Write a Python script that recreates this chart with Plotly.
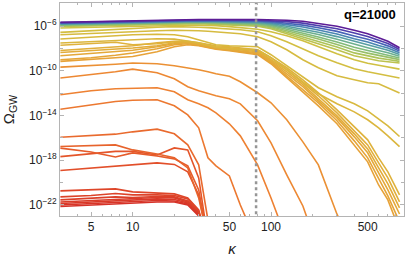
import plotly.graph_objects as go
import plotly.colors as pc

# ---------------- data (log10 of Omega_GW) ----------------
kappa_full = [3, 5, 7.5, 10, 15, 20, 25, 30, 35, 40, 50, 60, 80, 100, 130, 170,
              220, 300, 400, 500, 600, 700, 850]
kappa_band = [3, 10, 30, 80, 100, 130, 170, 220, 300, 400, 500, 600, 700, 850]
kappa_marker = 78

red_curves = [
    [-22.16, -22.02, -21.93, -21.84, -21.75, -21.75, -22.02, -23.01, -25.61],
    [-22.02, -21.89, -21.75, -21.71, -21.62, -21.66, -21.93, -22.92, -25.61],
    [-21.89, -21.75, -21.62, -21.57, -21.48, -21.53, -21.84, -22.83, -25.61],
    [-21.75, -21.62, -21.48, -21.44, -21.35, -21.39, -21.75, -22.74, -25.61],
    [-21.57, -21.44, -21.30, -21.35, -21.26, -21.30, -21.66, -22.65, -25.61],
    [-21.30, -21.17, -20.99, -21.12, -21.12, -21.17, -21.48, -22.56, -25.61],
    [-20.76, -20.67, -20.58, -20.85, -20.94, -21.03, -21.39, -22.47, -25.61],
]

early_orange_curves = [
    [-18.93, -18.70, -18.52, -18.39, -18.25, -18.39, -19.06, -21.12, -25.16],
    [-17.69, -17.45, -17.22, -17.22, -17.54, -16.91, -17.09, -19.60, -25.16],
    [-16.93, -17.27, -17.72, -17.36, -17.63, -17.89, -18.52, -20.67, -25.16],
    [-16.79, -16.68, -16.64, -17.09, -17.45, -17.80, -18.70, -21.39, -25.16],
    [-15.95, -15.83, -15.68, -15.47, -15.23, -15.65, -16.64, -18.43, -23.37, -26.0],
]

orange_curves = [
    [-13.44, -13.05, -12.75, -12.64, -12.60, -13.14, -13.95, -15.11, -17.80,
     -18.52, -19.42, -22.02, -25.61],
    [-12.15, -11.79, -11.61, -11.55, -11.52, -11.88, -12.60, -12.96, -13.32,
     -13.77, -14.75, -15.83, -18.43, -21.39, -25.16],
    [-10.65, -10.36, -10.09, -9.85, -10.18, -10.72, -11.43, -11.79, -12.06,
     -12.24, -12.51, -12.96, -14.48, -16.46, -19.33, -22.11, -26.06],
    [-9.67, -9.55, -9.42, -9.31, -9.37, -9.55, -9.73, -9.91, -10.09, -10.27,
     -10.49, -10.99, -11.97, -12.87, -14.39, -16.37, -18.43, -22.85, -26.06],
]

gold_curves = [
    [-9.16, -9.01, -8.83, -8.72, -8.29, -7.85, -7.67, -7.76, -7.94, -8.07, -8.21,
     -8.34, -8.56, -9.37, -10.63, -11.88, -13.14, -14.75, -16.64, -18.16, -20.23,
     -21.57, -24.26],
    [-9.01, -8.83, -8.61, -8.41, -8.03, -7.67, -7.58, -7.71, -7.89, -8.03, -8.16,
     -8.29, -8.47, -9.28, -10.45, -11.70, -12.87, -14.48, -16.28, -17.80, -19.60,
     -21.21, -23.54],
    [-8.65, -8.47, -8.29, -8.16, -7.85, -7.58, -7.49, -7.67, -7.85, -7.98, -8.12,
     -8.21, -8.38, -9.19, -10.27, -11.43, -12.69, -14.22, -15.92, -17.35, -19.15,
     -20.67, -22.83],
    [-8.36, -8.21, -8.03, -7.96, -7.76, -7.49, -7.44, -7.62, -7.80, -7.89, -8.03,
     -8.12, -8.29, -9.10, -10.09, -11.25, -12.51, -14.04, -15.65, -17.00, -18.70,
     -20.14, -22.29],
    [-8.18, -7.98, -7.85, -7.76, -7.49, -7.35, -7.40, -7.58, -7.76, -7.85, -7.94,
     -8.07, -8.21, -9.01, -9.91, -11.08, -12.24, -13.77, -15.38, -16.64, -18.25,
     -19.60, -21.75],
    [-7.71, -7.58, -7.44, -7.67, -7.58, -7.40, -7.35, -7.49, -7.67, -7.76, -7.85,
     -7.94, -8.12, -8.83, -9.73, -10.81, -11.97, -13.50, -15.02, -16.19, -17.80,
     -19.06, -21.12],
]

yellow_curves = [
    [-7.51, -7.40, -7.31, -7.22, -7.13, -7.17, -7.31, -7.49, -7.71, -7.89, -8.03,
     -8.07, -8.12, -8.83, -9.91, -10.99, -12.06, -12.96, -13.68, -14.39, -15.11,
     -15.83, -16.79],
    [-7.16, -6.99, -6.86, -6.77, -6.73, -6.77, -6.95, -7.22, -7.49, -7.67, -7.76,
     -7.80, -7.85, -8.56, -9.55, -10.54, -11.52, -12.33, -12.96, -13.59, -14.30,
     -14.93, -15.89],
    [-6.77, -6.64, -6.55, -6.47, -6.41, -6.37, -6.37, -6.41, -6.46, -6.50, -6.59,
     -6.68, -6.95, -7.40, -8.12, -9.01, -9.73, -10.45, -10.81, -11.08, -11.17,
     -11.52, -12.00],
    [-6.56, -6.41, -6.28, -6.17, -6.10, -6.05, -6.05, -6.10, -6.14, -6.19, -6.23,
     -6.32, -6.50, -6.86, -7.40, -8.03, -8.65, -9.28, -9.82, -10.09, -10.27,
     -10.45, -10.65],
    [-6.17, -6.10, -6.05, -6.01, -5.96, -5.92, -5.92, -5.92, -5.92, -5.96, -6.05,
     -6.14, -6.28, -6.50, -6.86, -7.31, -7.85, -8.47, -9.01, -9.33, -9.51, -9.64,
     -9.85],
]

band_curves = [
    [-6.03, -5.87, -5.78, -6.01, -6.23, -6.68, -7.13, -7.58, -8.12, -8.65, -8.92, -9.10, -9.19, -9.31],
    [-5.98, -5.84, -5.74, -5.94, -6.14, -6.55, -6.96, -7.37, -7.88, -8.40, -8.67, -8.87, -8.99, -9.16],
    [-5.94, -5.79, -5.70, -5.87, -6.05, -6.41, -6.78, -7.16, -7.65, -8.14, -8.42, -8.64, -8.78, -9.00],
    [-5.90, -5.76, -5.66, -5.81, -5.96, -6.28, -6.61, -6.97, -7.42, -7.89, -8.18, -8.41, -8.58, -8.85],
    [-5.85, -5.71, -5.61, -5.74, -5.87, -6.14, -6.43, -6.76, -7.18, -7.64, -7.93, -8.19, -8.38, -8.70],
    [-5.82, -5.68, -5.58, -5.68, -5.78, -6.01, -6.26, -6.55, -6.94, -7.38, -7.68, -7.95, -8.17, -8.55],
    [-5.77, -5.63, -5.53, -5.60, -5.69, -5.87, -6.08, -6.35, -6.71, -7.13, -7.42, -7.73, -7.96, -8.39],
    [-5.73, -5.59, -5.49, -5.54, -5.60, -5.74, -5.91, -6.15, -6.47, -6.88, -7.18, -7.50, -7.77, -8.24],
    [-5.69, -5.55, -5.45, -5.47, -5.51, -5.60, -5.73, -5.94, -6.24, -6.62, -6.93, -7.27, -7.56, -8.09],
    [-5.65, -5.51, -5.41, -5.41, -5.42, -5.47, -5.56, -5.74, -6.01, -6.37, -6.68, -7.04, -7.35, -7.94],
]

x_tick_vals = [5, 10, 50, 100, 500]
x_minor_vals = [3, 4, 6, 7, 8, 9, 20, 30, 40, 60, 70, 80, 90, 200, 300, 400, 600, 700, 800]
y_label_exps = [-22, -18, -14, -10, -6]
y_minor_exps = [-20, -16, -12, -8, -4]

# ---------------- styling ----------------
colorscale = [
    [0.00, "rgb(214,50,40)"],
    [0.12, "rgb(228,85,42)"],
    [0.25, "rgb(238,130,50)"],
    [0.36, "rgb(232,160,55)"],
    [0.46, "rgb(222,180,60)"],
    [0.56, "rgb(208,192,66)"],
    [0.66, "rgb(170,195,90)"],
    [0.76, "rgb(120,185,130)"],
    [0.85, "rgb(75,150,175)"],
    [0.93, "rgb(70,85,185)"],
    [1.00, "rgb(92,28,150)"],
]

groups = [
    (red_curves, kappa_full, 0.00, 0.07),
    (early_orange_curves, kappa_full, 0.10, 0.18),
    (orange_curves, kappa_full, 0.22, 0.30),
    (gold_curves, kappa_full, 0.37, 0.45),
    (yellow_curves, kappa_full, 0.48, 0.56),
    (band_curves, kappa_band, 0.61, 1.00),
]

fig = go.Figure()

for curves, kx, t0, t1 in groups:
    n = len(curves)
    for i, vals in enumerate(curves):
        t = t0 + (t1 - t0) * (i / (n - 1) if n > 1 else 0)
        col = pc.sample_colorscale(colorscale, [t])[0]
        xs = kx[:len(vals)]
        ys = [10 ** v for v in vals]
        fig.add_trace(go.Scatter(x=xs, y=ys, mode="lines",
                                 line=dict(color=col, width=1.6),
                                 showlegend=False, hoverinfo="skip"))

fig.add_trace(go.Scatter(x=[kappa_marker, kappa_marker], y=[1e-25, 1e-3], mode="lines",
                         line=dict(color="rgb(150,150,150)", width=2.5, dash="3px,3px"),
                         showlegend=False, hoverinfo="skip"))

frame = "rgb(180,180,180)"
font_family = "Liberation Sans, Arial, sans-serif"

fig.update_layout(
    width=409, height=259,
    margin=dict(l=60, r=5, t=3, b=43),
    paper_bgcolor="white", plot_bgcolor="white",
    font=dict(family=font_family, size=12, color="#222"),
    xaxis=dict(
        type="log", range=[0.4742, 2.9617],
        tickvals=x_tick_vals, ticktext=[str(v) for v in x_tick_vals],
        ticks="inside", ticklen=4, tickcolor=frame, tickwidth=1,
        showline=True, linecolor=frame, linewidth=1, mirror="allticks",
        showgrid=False, zeroline=False,
        minor=dict(tickvals=x_minor_vals, ticks="inside", ticklen=2, tickcolor=frame),
        tickfont=dict(size=12, color="#222"),
        title=dict(text="<i>κ</i>", font=dict(size=15, color="#222"), standoff=10),
    ),
    yaxis=dict(
        type="log", range=[-23.01, -3.93],
        tickvals=[10.0 ** e for e in y_label_exps],
        ticktext=["10<sup>−%d</sup>" % (-e) for e in y_label_exps],
        ticks="inside", ticklen=4, tickcolor=frame, tickwidth=1,
        showline=True, linecolor=frame, linewidth=1, mirror="allticks",
        showgrid=False, zeroline=False,
        minor=dict(tickvals=[10.0 ** e for e in y_minor_exps], ticks="inside",
                   ticklen=3, tickcolor=frame),
        tickfont=dict(size=12, color="#222"),
        title=dict(text="Ω<sub>GW</sub>", font=dict(size=15, color="#222"), standoff=11),
    ),
    annotations=[dict(
        text="<b>q=21000</b>", xref="paper", yref="paper",
        x=0.983, y=0.944, xanchor="right", yanchor="middle",
        showarrow=False, font=dict(size=13, color="black", family=font_family),
    )],
)

fig.write_html("out.html", config={"displayModeBar": False},
               post_script="document.body.style.margin='0';document.body.style.padding='0';")
